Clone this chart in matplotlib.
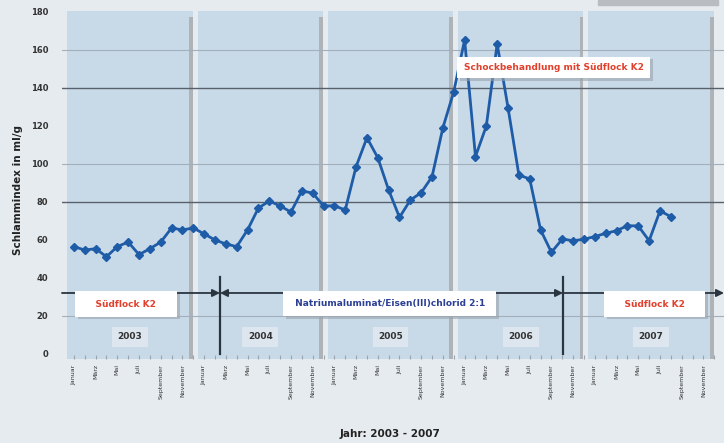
#Module
import matplotlib.pyplot as plt
from matplotlib.patches import Rectangle
import matplotlib.patheffects as pe

plt.rcParams['font.family'] = ['DejaVu Sans']

#Daten
jahre = ["2003", "2004", "2005", "2006", "2007"]
monate = ["Januar", "", "März", "", "Mai", "", "Juli", "", "September", "", "November", ""]

werte_2003 = [56.5, 54.7, 55.4, 51.2, 56.5, 58.9, 52.3, 55.4, 58.9, 66.3, 65.3, 66.3]
werte_2004 = [63.2, 60.0, 57.9, 56.5, 65.3, 76.8, 80.5, 77.9, 74.7, 85.8, 84.7, 77.9]
werte_2005 = [78.0, 75.8, 98.6, 113.8, 103.3, 86.3, 71.9, 81.0, 84.9, 93.3, 119.1, 138.0]
werte_2006 = [165.3, 103.9, 120.0, 163.2, 129.6, 94.2, 92.1, 65.3, 53.5, 60.5, 59.6, 60.4]
werte_2007 = [61.8, 63.5, 64.9, 67.5, 67.4, 59.6, 75.3, 72.3]

werte = werte_2003 + werte_2004 + werte_2005 + werte_2006 + werte_2007
x_werte = list(range(len(werte)))

#Farben
hintergrund = "#e6ebef"
panel_farbe = "#c8dae8"
schatten_farbe = "#aeb3b8"
linien_farbe = "#1f5ca8"
rot = "#e0402c"
blau = "#2b3f94"

fig = plt.figure(figsize=(7.24, 4.43), dpi=100, facecolor=hintergrund)
ax = fig.add_axes([0.0856, 0.1902, 0.9144, 0.785])
ax.set_facecolor(hintergrund)
ax.set_xlim(-1.1, 59.9)
ax.set_ylim(-2.5, 180.5)

#Jahres-Panels
for i, jahr in enumerate(jahre):
    start = 12 * i - 0.6
    ende = 12 * i + 10.95
    ax.add_patch(Rectangle((start, -2.5), ende - start, 183, color=panel_farbe, zorder=0, lw=0))
    ax.add_patch(Rectangle((ende - 0.35, -2.5), 0.35, 180, color=schatten_farbe, zorder=0.5, lw=0))
    ax.text((start + ende) / 2, 9, jahr, ha="center", va="center", fontsize=6.5, fontweight="bold",
            color="#333333", zorder=3,
            bbox=dict(boxstyle="square,pad=0.6", fc="#dde6ee", ec="none"))

#Gitterlinien
for y in [160, 100, 20]:
    ax.axhline(y, color="#a3afbb", lw=0.8, zorder=1)
for y in [140, 80]:
    ax.axhline(y, color="#58616b", lw=1.0, zorder=1)

#Datenlinie
ax.plot(x_werte, werte, color=linien_farbe, lw=2, marker="D", markersize=4, zorder=4)

#Pfeile und Phasen
pfeil_y = 32.1
trenn1 = 13.46
trenn2 = 45.07
pfeil = dict(arrowstyle="-|>", color="#2a3540", lw=1.3, mutation_scale=11, shrinkA=0, shrinkB=0)
doppel = dict(arrowstyle="<|-|>", color="#2a3540", lw=1.3, mutation_scale=11, shrinkA=0, shrinkB=0)
ax.annotate("", xy=(trenn1, pfeil_y), xytext=(-1.1, pfeil_y), arrowprops=pfeil, zorder=2)
ax.annotate("", xy=(trenn2, pfeil_y), xytext=(trenn1, pfeil_y), arrowprops=doppel, zorder=2)
ax.annotate("", xy=(59.9, pfeil_y), xytext=(trenn2, pfeil_y), arrowprops=pfeil, zorder=2,
            annotation_clip=False)
ax.plot([trenn1, trenn1], [0, 40.5], color="#2a3540", lw=1.6, zorder=2)
ax.plot([trenn2, trenn2], [0, 40.5], color="#2a3540", lw=1.6, zorder=2)

schatten = [pe.withSimplePatchShadow(offset=(2, -2), shadow_rgbFace="#9aa4ad", alpha=0.6)]

def label_box(x, y, text, farbe, pad):
    t = ax.text(x, y, text, ha="center", va="center", fontsize=6.5, fontweight="bold", color=farbe,
                zorder=5, bbox=dict(boxstyle="square,pad=" + pad, fc="white", ec="none"))
    t.get_bbox_patch().set_path_effects(schatten)
    return t

label_box(4.8, 26.3, "    Südflock K2    ", rot, "0.9")
label_box(29.1, 26.5, " Natriumaluminat/Eisen(III)chlorid 2:1 ", blau, "0.9")
label_box(53.5, 26.3, "    Südflock K2    ", rot, "0.9")
label_box(44.2, 150.8, "Schockbehandlung mit Südflock K2", rot, "0.7")

#Achsen
ax.set_xticks(range(60))
ax.set_xticklabels(monate * 5, rotation=90, fontsize=4.5, color="#333333", va="top")
ax.tick_params(axis="x", direction="in", length=3, color="#9ca5ae", pad=4)
ax.set_yticks(range(0, 181, 20))
ax.tick_params(axis="y", length=0, pad=10, labelsize=6, labelcolor="#333333")
for lab in ax.get_yticklabels():
    lab.set_fontweight("bold")
for s in ax.spines.values():
    s.set_visible(False)

fig.text(0.025, 0.57, "Schlammindex in ml/g", rotation=90, ha="center", va="center",
         fontsize=7.5, fontweight="bold", color="#222222")
fig.text(0.539, 0.02, "Jahr: 2003 - 2007", ha="center", va="center",
         fontsize=7.5, fontweight="bold", color="#222222")

#Grauer Balken oben rechts
fig.patches.append(Rectangle((598 / 724, 1 - 5 / 443), 120 / 724, 5 / 443,
                             transform=fig.transFigure, color="#b9bdc1", zorder=0))

plt.savefig("out.png", dpi=100, facecolor=hintergrund)
